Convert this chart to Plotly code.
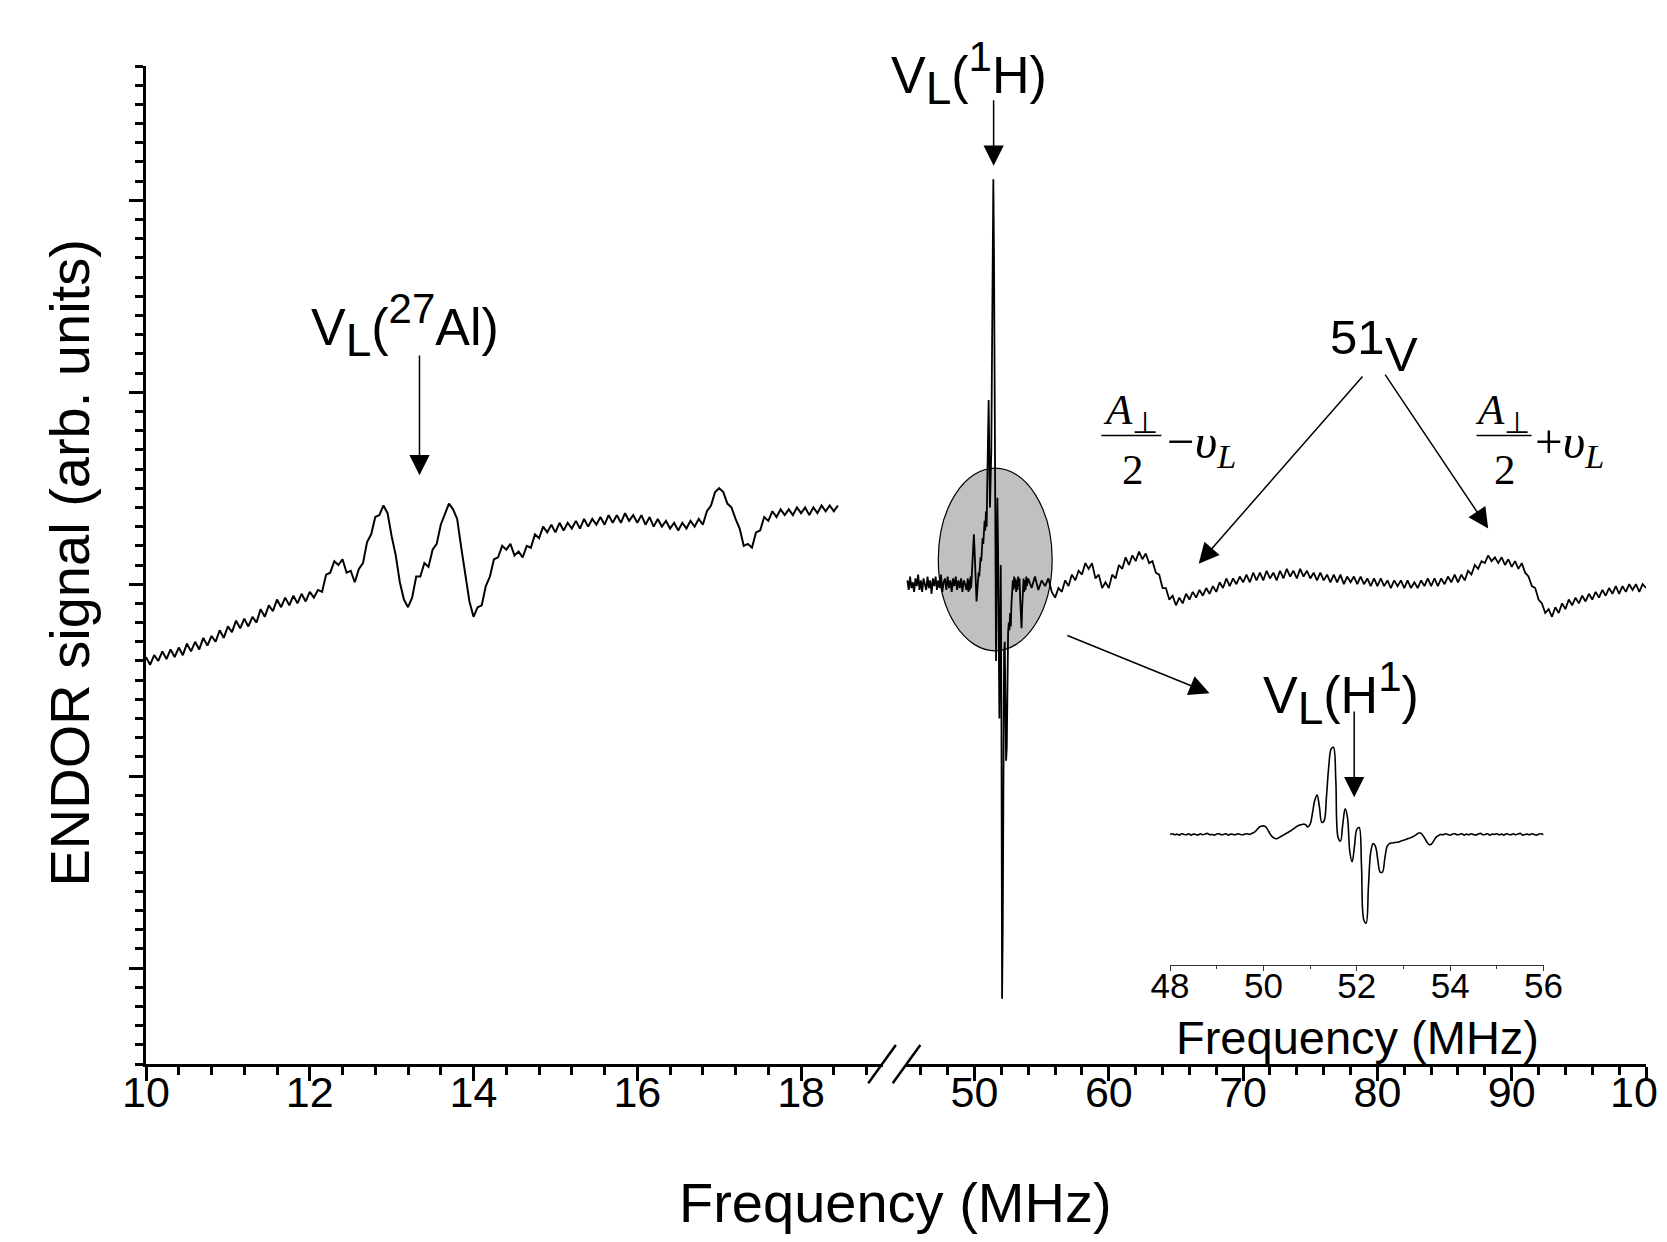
import numpy as np
import plotly.graph_objects as go

# ENDOR spectrum, low-frequency part (27Al region), 10-18.45 MHz
left_freq = np.round(np.arange(10.0, 18.451, 0.05), 2)
left_signal = [
    -0.38, -0.42, -0.37, -0.40, -0.35, -0.39, -0.34, -0.38, -0.33, -0.37,
    -0.31, -0.35, -0.30, -0.34, -0.28, -0.32, -0.27, -0.30, -0.24, -0.28,
    -0.22, -0.25, -0.19, -0.23, -0.18, -0.22, -0.17, -0.20, -0.13, -0.17,
    -0.11, -0.14, -0.08, -0.12, -0.07, -0.11, -0.06, -0.10, -0.05, -0.09,
    -0.04, -0.07, -0.03, -0.04, 0.05, 0.06, 0.12, 0.10, 0.13, 0.06,
    0.07, 0.01, 0.08, 0.11, 0.22, 0.26, 0.35, 0.36, 0.41, 0.37,
    0.25, 0.15, 0.01, -0.08, -0.12, -0.07, 0.04, 0.04, 0.11, 0.09,
    0.18, 0.21, 0.31, 0.37, 0.42, 0.39, 0.34, 0.19, 0.06, -0.09,
    -0.17, -0.12, -0.11, -0.01, 0.04, 0.13, 0.14, 0.20, 0.18, 0.21,
    0.15, 0.17, 0.14, 0.20, 0.19, 0.26, 0.24, 0.30, 0.27, 0.31,
    0.27, 0.32, 0.28, 0.32, 0.29, 0.33, 0.29, 0.34, 0.30, 0.34,
    0.31, 0.35, 0.31, 0.36, 0.32, 0.36, 0.32, 0.37, 0.33, 0.36,
    0.32, 0.36, 0.31, 0.35, 0.30, 0.34, 0.30, 0.33, 0.29, 0.32,
    0.28, 0.32, 0.29, 0.33, 0.30, 0.34, 0.31, 0.38, 0.41, 0.48,
    0.50, 0.48, 0.42, 0.40, 0.34, 0.29, 0.20, 0.21, 0.19, 0.27,
    0.28, 0.35, 0.33, 0.38, 0.35, 0.39, 0.36, 0.39, 0.36, 0.40,
    0.37, 0.40, 0.36, 0.40, 0.37, 0.41, 0.38, 0.41, 0.38, 0.41,
]

# high-frequency part (1H and 51V region), 45-100 MHz, finer sampling around the proton line
right_freq = np.round(np.concatenate([
    np.arange(45.0, 49.41, 0.1),
    np.arange(49.5, 53.951, 0.05),
    np.arange(54.0, 100.01, 0.25),
]), 2)
right_signal = [
    # 45.0 - 49.4
    0.02, -0.03, 0.04, -0.02, 0.01, -0.04, 0.03, -0.01, 0.05, -0.03,
    0.02, -0.04, 0.03, 0.00, -0.03, 0.04, -0.02, 0.02, -0.05, 0.03,
    -0.01, 0.04, -0.03, 0.02, -0.02, 0.05, -0.04, 0.01, 0.03, -0.03,
    0.04, -0.02, 0.02, -0.04, 0.03, -0.01, 0.04, -0.03, 0.02, -0.02,
    0.03, -0.04, 0.02, 0.00, -0.03,
    # 49.5 - 53.95
    0.03, -0.04, 0.02, -0.03, 0.04, -0.02, 0.05, 0.12, 0.22, 0.26,
    0.18, 0.05, -0.06, -0.09, -0.04, 0.02, 0.06, 0.04, 0.10, 0.14,
    0.12, 0.20, 0.24, 0.21, 0.30, 0.33, 0.28, 0.38, 0.30, 0.45,
    0.75, 0.96, 0.60, 0.40, 0.55, 0.70, 1.20, 1.80, 2.11, 1.70,
    0.90, -0.20, -0.40, 0.10, 0.45, 0.20, -0.50, -0.70, -0.30, 0.10,
    -0.60, -2.16, -1.80, -0.90, -0.35, -0.30, -0.60, -0.92, -0.85, -0.50,
    -0.25, -0.20, -0.24, -0.15, -0.22, -0.10, -0.05, 0.02, -0.03, 0.04,
    -0.02, 0.03, -0.04, 0.02, -0.03, 0.04, -0.01, 0.03, -0.08, -0.20,
    -0.23, -0.12, -0.02, 0.03, -0.04, 0.02, -0.03, 0.04, -0.01, 0.02,
    # 54.0 - 100.0
    0.03, -0.02, 0.04, -0.03, 0.02, -0.01, 0.03, -0.04, -0.07, -0.02,
    -0.04, 0.02, -0.01, 0.05, 0.02, 0.07, 0.05, 0.11, 0.08, 0.11,
    0.03, 0.05, -0.02, 0.01, -0.02, 0.05, 0.03, 0.10, 0.08, 0.14,
    0.10, 0.15, 0.12, 0.17, 0.13, 0.16, 0.11, 0.12, 0.06, 0.05,
    -0.02, -0.02, -0.08, -0.06, -0.11, -0.07, -0.10, -0.05, -0.08, -0.04,
    -0.07, -0.03, -0.06, -0.02, -0.05, -0.01, -0.04, 0.01, -0.02, 0.03,
    -0.01, 0.03, 0.00, 0.04, 0.01, 0.05, 0.01, 0.06, 0.02, 0.06,
    0.02, 0.07, 0.03, 0.06, 0.02, 0.07, 0.03, 0.08, 0.04, 0.07,
    0.03, 0.08, 0.04, 0.07, 0.03, 0.06, 0.02, 0.06, 0.02, 0.05,
    0.01, 0.05, 0.01, 0.05, 0.00, 0.04, 0.01, 0.04, 0.00, 0.04,
    0.00, 0.03, -0.01, 0.03, -0.01, 0.03, -0.01, 0.02, -0.02, 0.02,
    -0.01, 0.02, -0.02, 0.02, -0.02, 0.01, -0.02, 0.02, -0.01, 0.03,
    -0.01, 0.03, -0.01, 0.03, 0.00, 0.04, 0.01, 0.05, 0.01, 0.05,
    0.02, 0.07, 0.05, 0.10, 0.08, 0.12, 0.11, 0.15, 0.12, 0.14,
    0.11, 0.14, 0.10, 0.13, 0.09, 0.12, 0.08, 0.11, 0.06, 0.04,
    -0.01, -0.02, -0.08, -0.10, -0.15, -0.13, -0.17, -0.12, -0.15, -0.10,
    -0.13, -0.08, -0.11, -0.07, -0.10, -0.06, -0.09, -0.05, -0.08, -0.04,
    -0.07, -0.03, -0.06, -0.02, -0.05, -0.01, -0.05, -0.01, -0.04, 0.00,
    -0.03, 0.00, -0.04, 0.00, -0.02,
]

# inset: proton line recorded 48-56 MHz
inset_freq = np.round(np.arange(48.0, 56.001, 0.05), 2)
inset_signal = [
    0.00, 0.02, -0.01, 0.01, -0.02, 0.02, 0.00, -0.01, 0.02, -0.02,
    0.01, 0.00, -0.02, 0.02, -0.01, 0.01, 0.03, -0.01, 0.00, -0.02,
    0.01, 0.02, -0.01, 0.00, 0.02, -0.02, 0.01, 0.00, -0.01, 0.02,
    0.00, -0.01, 0.01, 0.02, 0.00, 0.03, 0.06, 0.12, 0.20, 0.24,
    0.25, 0.22, 0.12, 0.00, -0.08, -0.12, -0.12, -0.08, -0.04, 0.00,
    0.04, 0.08, 0.12, 0.17, 0.22, 0.26, 0.28, 0.30, 0.29, 0.22,
    0.30, 0.62, 1.00, 1.15, 0.80, 0.35, 0.40, 1.10, 2.00, 2.50,
    2.55, 1.60, -0.10, -0.20, 0.30, 0.75, 0.50, -0.50, -0.80, -0.35,
    0.15, 0.20, -0.90, -2.50, -2.60, -1.50, -0.50, -0.27, -0.35, -0.75,
    -1.10, -1.10, -0.70, -0.35, -0.27, -0.25, -0.24, -0.23, -0.22, -0.19,
    -0.17, -0.15, -0.12, -0.10, -0.07, -0.03, 0.02, 0.05, 0.00, -0.10,
    -0.22, -0.30, -0.28, -0.18, -0.08, -0.03, 0.00, -0.01, 0.02, 0.00,
    -0.02, 0.01, 0.02, -0.01, 0.00, 0.02, -0.02, 0.01, -0.01, 0.02,
    0.00, -0.02, 0.01, 0.03, -0.01, 0.00, 0.02, -0.02, 0.01, 0.00,
    0.02, -0.01, 0.01, -0.02, 0.02, 0.00, -0.01, 0.02, -0.01, 0.01,
    0.03, -0.02, 0.00, 0.01, -0.01, 0.02, 0.00, -0.02, 0.01, 0.02,
    -0.01,
]

left_ticks = [10, 12, 14, 16, 18]
right_ticks = [50, 60, 70, 80, 90, 100]
# the last label sits on the page edge and is cut there, so it is drawn as an annotation
right_ticktext = ["50", "60", "70", "80", "90", ""]
inset_ticks = [48, 50, 52, 54, 56]

assert len(left_freq) == len(left_signal)
assert len(right_freq) == len(right_signal)
assert len(inset_freq) == len(inset_signal)

SANS = "Liberation Sans, Arial, sans-serif"
SERIF = "Liberation Serif, Times New Roman, serif"
TICK_SIZE = 43

fig = go.Figure()

# highlight round the proton line (drawn under the spectrum)
fig.add_shape(type="circle", xref="x2", yref="y", x0=47.3, x1=55.78, y0=-0.347, y1=0.605,
              fillcolor="#c0c0c0", line=dict(color="black", width=1.2), layer="below")

fig.add_trace(go.Scatter(x=left_freq, y=left_signal, mode="lines",
                         line=dict(color="black", width=2.0), xaxis="x", yaxis="y"))
fig.add_trace(go.Scatter(x=right_freq, y=right_signal, mode="lines",
                         line=dict(color="black", width=1.8), xaxis="x2", yaxis="y"))
fig.add_trace(go.Scatter(x=inset_freq, y=inset_signal, mode="lines", line_shape="spline",
                         line=dict(color="black", width=1.6), xaxis="x3", yaxis="y3"))

axis_common = dict(showline=True, linecolor="black", linewidth=3, ticks="outside",
                   tickcolor="black", tickwidth=2.8, showgrid=False, zeroline=False,
                   automargin=False, ticklabelstandoff=-26,
                   tickfont=dict(family=SANS, size=TICK_SIZE, color="black"))
minor_x = dict(ticklen=8, tickwidth=2.8, tickcolor="black", ticks="outside")

# figure kept 16 px smaller than the window so the page (with its 8 px body margin) does not overflow
fig.update_layout(
    width=1651, height=1226,
    margin=dict(l=138, r=13, t=58, b=170, autoexpand=False),
    paper_bgcolor="white", plot_bgcolor="white",
    showlegend=False,
    font=dict(family=SANS, color="black"),
    xaxis=dict(domain=[0, 0.4913], range=[10, 19], anchor="y",
               tickvals=left_ticks, ticklen=14,
               minor=dict(dtick=0.4, tick0=10, **minor_x),
               **axis_common),
    xaxis2=dict(domain=[0.5067, 1], range=[44.9, 100], anchor="y",
                tickvals=right_ticks, ticktext=right_ticktext, ticklen=14,
                minor=dict(dtick=2, tick0=0, **minor_x),
                **axis_common),
    yaxis=dict(range=[-2.5, 2.7], domain=[0, 1], anchor="x",
               dtick=1, tick0=0, ticklen=14, showticklabels=False,
               minor=dict(dtick=0.1, tick0=0, **minor_x),
               **axis_common),
    xaxis3=dict(domain=[0.6827, 0.9317], range=[48, 56], anchor="y3",
                showline=True, linecolor="#333", linewidth=1.2, ticks="outside",
                tickcolor="#333", tickwidth=1.2, ticklen=5, tickvals=inset_ticks,
                ticklabelstandoff=-15, automargin=False,
                minor=dict(dtick=1, tick0=48, ticklen=3, tickwidth=1.2, tickcolor="#333", ticks="outside"),
                showgrid=False, zeroline=False,
                tickfont=dict(family=SANS, size=35, color="black")),
    yaxis3=dict(domain=[0.0989, 0.368], range=[-3.83, 4.03], anchor="x3", visible=False),
)


def label(x, y, text, xref, yref, font, **kw):
    fig.add_annotation(x=x, y=y, xref=xref, yref=yref, text=text, showarrow=False,
                       xanchor=kw.pop("xanchor", "center"), yanchor="middle", font=font, **kw)


def big(s, px=46):
    # sub/superscripts in the figure are almost full size
    return '<span style="font-size:%dpx">%s</span>' % (px, s)


# last tick label of the right axis
label(right_ticks[-1], -0.028, str(right_ticks[-1]), "x2", "paper",
      dict(family=SANS, size=TICK_SIZE, color="black"))

# axis titles
label(0.4997, -0.139, "Frequency (MHz)", "paper", "paper", dict(family=SANS, size=56, color="black"))
label(-0.051, 0.502, "ENDOR signal (arb. units)", "paper", "paper",
      dict(family=SANS, size=56, color="black"), textangle=-90)
label(0.8078, 0.027, "Frequency (MHz)", "paper", "paper", dict(family=SANS, size=47, color="black"))

# axis break marks
for x0 in (0.4815, 0.4978):
    fig.add_shape(type="line", xref="paper", yref="paper", x0=x0, y0=-0.0193, x1=x0 + 0.0184, y1=0.019,
                  line=dict(color="black", width=2.5))

label_font = dict(family=SANS, size=52, color="black")


def arrow(xref, yref, x, y, ax, ay):
    fig.add_annotation(x=x, y=y, ax=ax, ay=ay, xref=xref, yref=yref, axref=xref, ayref=yref,
                       text="", showarrow=True, arrowhead=2, arrowsize=2.7, arrowwidth=1.5,
                       arrowcolor="black")


# 27Al Larmor frequency
label(13.16, 1.35, "V<sub>%s</sub>(<sup>%s</sup>Al)" % (big("L"), big("27", 42)), "x", "y", label_font)
arrow("x", "y", 13.34, 0.567, 13.34, 1.20)

# 1H Larmor frequency
label(49.59, 2.66, "V<sub>%s</sub>(<sup>%s</sup>H)" % (big("L"), big("1", 42)), "x2", "y", label_font)
arrow("x2", "y", 51.42, 2.18, 51.42, 2.53)

# 51V lines
label(78.51, 1.29, "51", "x2", "y", dict(family=SANS, size=49, color="black"))
label(81.8, 1.20, "V", "x2", "y", dict(family=SANS, size=49, color="black"))
arrow("x2", "y", 66.69, 0.107, 78.99, 1.09)
arrow("x2", "y", 88.25, 0.29, 80.5, 1.10)

# A_perp/2 -/+ nu_L labels
math_font = dict(family=SERIF, size=43, color="black")
sign_font = dict(family=SERIF, size=49, color="black")
for xc, x_bar0, x_bar1, x_sign, sign in [(61.62, 59.44, 63.91, 64.2, "\u2212"),
                                         (89.34, 87.38, 91.48, 91.6, "+")]:
    label(xc, 0.89, "<i>A</i><sub>\u22a5</sub>", "x2", "y", math_font)
    fig.add_shape(type="line", xref="x2", yref="y", x0=x_bar0, x1=x_bar1, y0=0.775, y1=0.775,
                  line=dict(color="black", width=1.5))
    label(xc + 0.15, 0.60, "2", "x2", "y", math_font)
    label(x_sign, 0.73, sign + "<i>\u03c5</i><sub><i>L</i></sub>", "x2", "y", sign_font, xanchor="left")

# zoom arrow from the highlighted region to the inset
arrow("x2", "y", 67.5, -0.568, 56.8, -0.264)

# inset label
label(77.32, -0.57, "V<sub>%s</sub>(H<sup>%s</sup>)" % (big("L"), big("1", 42)), "x2", "y", label_font)
arrow("x2", "y", 78.27, -1.11, 78.27, -0.656)

fig.write_html("out.html")
